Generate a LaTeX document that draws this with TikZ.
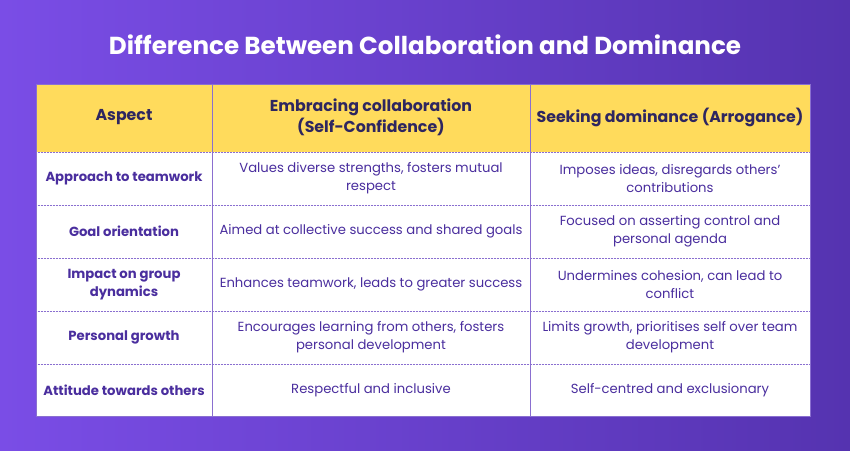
\documentclass[tikz,border=0pt]{standalone}
\usepackage{fontspec}
\setmainfont{Poppins}
\definecolor{bgL}{HTML}{7A4DE6}
\definecolor{bgR}{HTML}{5533B0}
\definecolor{hdr}{HTML}{FFDB5C}
\definecolor{hdrtxt}{HTML}{2E2660}
\definecolor{bodytxt}{HTML}{4A2E9E}
\definecolor{grid}{HTML}{8A6FD0}
\begin{document}
\begin{tikzpicture}[x=1pt,y=-1pt,
  cell/.style={align=center,font=\fontsize{13.2}{18}\selectfont,text=bodytxt,inner sep=0pt},
  aspectcell/.style={cell,font=\fontsize{13.2}{18}\selectfont\bfseries},
  headcell/.style={align=center,font=\fontsize{15.8}{21}\selectfont\bfseries,text=hdrtxt,inner sep=0pt}]
\shade[left color=bgL,right color=bgR] (0,0) rectangle (850,450);
\useasboundingbox (0,0) rectangle (850,450);
\node[text=white,font=\fontsize{24.6}{28}\selectfont\bfseries] (title) at (425,45) {Difference Between Collaboration and Dominance};
\fill[hdr] (36,84) rectangle (810,152);
\fill[white] (36,152) rectangle (810,416);
\draw[grid,line width=0.6pt] (36,84) rectangle (810,416);
\foreach \y in {152,205,258,311,364} \draw[grid,line width=0.5pt,densely dotted] (36,\y) -- (810,\y);
\foreach \x in {212,530} \draw[grid,line width=0.5pt] (\x,84) -- (\x,416);
\node[headcell] (h1) at (124,117) {Aspect};
\node[headcell] (h2) at (371,117) {Embracing collaboration\\(Self-Confidence)};
\node[headcell] (h3) at (670,117) {Seeking dominance (Arrogance)};
\node[aspectcell] (a1) at (124,178.5) {Approach to teamwork};
\node[cell] (b1) at (371,178.5) {Values diverse strengths, fosters mutual\\respect};
\node[cell] (c1) at (670,178.5) {Imposes ideas, disregards others’\\contributions};
\node[aspectcell] (a2) at (124,231.5) {Goal orientation};
\node[cell] (b2) at (371,231.5) {Aimed at collective success and shared goals};
\node[cell] (c2) at (670,231.5) {Focused on asserting control and\\personal agenda};
\node[aspectcell] (a3) at (124,284.5) {Impact on group\\dynamics};
\node[cell] (b3) at (371,284.5) {Enhances teamwork, leads to greater success};
\node[cell] (c3) at (670,284.5) {Undermines cohesion, can lead to\\conflict};
\node[aspectcell] (a4) at (124,337.5) {Personal growth};
\node[cell] (b4) at (371,337.5) {Encourages learning from others, fosters\\personal development};
\node[cell] (c4) at (670,337.5) {Limits growth, prioritises self over team\\development};
\node[aspectcell] (a5) at (124,390) {Attitude towards others};
\node[cell] (b5) at (371,390) {Respectful and inclusive};
\node[cell] (c5) at (670,390) {Self-centred and exclusionary};
\end{tikzpicture}
\end{document}
